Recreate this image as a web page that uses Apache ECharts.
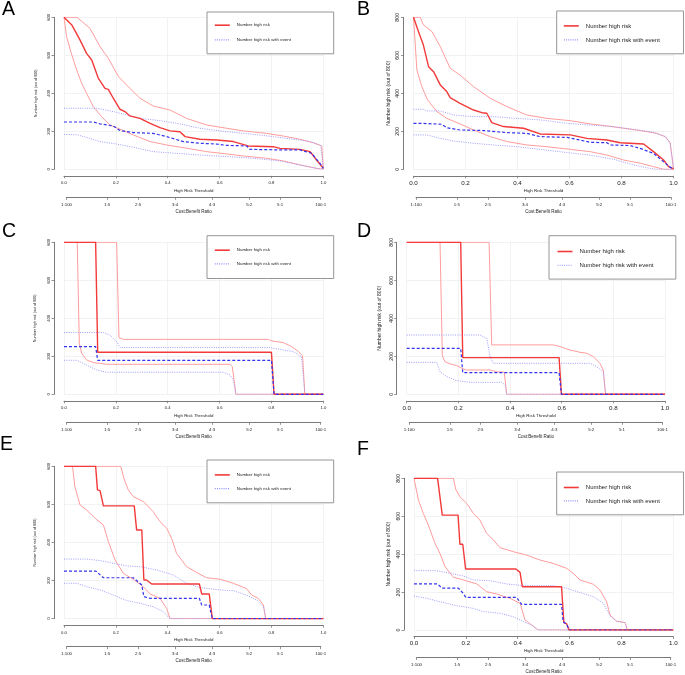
<!DOCTYPE html>
<html>
<head>
<meta charset="utf-8">
<script src="https://cdn.jsdelivr.net/npm/echarts@6/dist/echarts.min.js"></script>
<style>
html,body{margin:0;padding:0;background:#fff;}
#chart{width:685px;height:675px;}
</style>
</head>
<body>
<div id="chart"></div>
<script>
// ---------- tick labels ----------
const xTicks = [0, 0.2, 0.4, 0.6, 0.8, 1.0];
const yTicks = [0, 200, 400, 600, 800];
const cbTicks = [1/101, 1/6, 2/7, 3/7, 4/7, 5/7, 5/6, 100/101];
const cbLabels = ['1:100', '1:5', '2:5', '3:4', '4:3', '5:2', '5:1', '100:1'];
const panelLetters = ['A', 'B', 'C', 'D', 'E', 'F'];
const legendNames = ['Number high risk', 'Number high risk with event'];

// ---------- Panel A ----------
const A_risk = [[0,800],[0.03,760],[0.062,680],[0.087,610],[0.107,575],[0.132,480],[0.158,426],[0.171,421],[0.19,374],[0.216,316],[0.235,304],[0.254,281],[0.293,268],[0.332,242],[0.37,219],[0.409,202],[0.447,198],[0.467,172],[0.524,158],[0.589,154],[0.653,146],[0.71,123],[0.807,119],[0.833,110],[0.91,105],[0.949,93],[0.974,49],[1,5]];
const A_riskHi = [[0,800],[0.05,800],[0.1,742],[0.139,646],[0.171,584],[0.21,488],[0.254,426],[0.293,374],[0.344,333],[0.409,312],[0.473,268],[0.55,233],[0.627,216],[0.692,202],[0.781,189],[0.846,175],[0.91,158],[0.961,140],[0.994,123],[1,5]];
const A_riskLo = [[0,800],[0.01,698],[0.03,602],[0.049,523],[0.068,453],[0.087,400],[0.113,330],[0.145,277],[0.177,233],[0.216,211],[0.267,181],[0.332,146],[0.396,128],[0.473,111],[0.55,93],[0.627,81],[0.692,70],[0.781,58],[0.846,44],[0.91,23],[0.974,5],[1,0]];
const A_event = [[0,249],[0.113,249],[0.139,239],[0.19,228],[0.216,204],[0.267,193],[0.344,189],[0.396,172],[0.46,146],[0.524,137],[0.589,133],[0.627,126],[0.704,123],[0.717,105],[0.833,102],[0.91,102],[0.955,84],[0.987,32],[1,5]];
const A_eventHi = [[0,321],[0.126,321],[0.19,304],[0.242,286],[0.293,268],[0.37,256],[0.447,239],[0.524,216],[0.627,198],[0.73,184],[0.807,172],[0.884,158],[0.949,146],[0.99,126],[1,5]];
const A_eventLo = [[0,184],[0.049,182],[0.087,168],[0.139,146],[0.203,133],[0.267,116],[0.344,93],[0.434,84],[0.524,75],[0.627,67],[0.73,58],[0.833,44],[0.91,23],[0.974,5],[1,0]];

// ---------- Panel B ----------
const B_risk = [[0,800],[0.019,725],[0.038,654],[0.058,540],[0.077,514],[0.103,444],[0.128,409],[0.141,377],[0.179,347],[0.231,312],[0.263,298],[0.282,295],[0.301,246],[0.346,225],[0.423,216],[0.487,186],[0.603,181],[0.667,163],[0.744,154],[0.795,140],[0.885,133],[0.923,93],[0.962,49],[0.981,14],[0.997,5],[1,0]];
const B_riskHi = [[0,800],[0.026,800],[0.038,760],[0.071,725],[0.103,646],[0.141,532],[0.179,496],[0.231,435],[0.295,374],[0.359,330],[0.436,286],[0.513,268],[0.603,256],[0.679,239],[0.744,228],[0.808,216],[0.872,204],[0.936,189],[0.968,172],[0.987,140],[1,5]];
const B_riskLo = [[0,800],[0.013,523],[0.032,435],[0.054,365],[0.09,304],[0.128,268],[0.179,239],[0.231,207],[0.295,172],[0.359,146],[0.436,128],[0.513,119],[0.603,105],[0.679,93],[0.744,75],[0.808,49],[0.872,32],[0.923,14],[0.962,0],[1,0]];
const B_event = [[0,242],[0.032,242],[0.038,237],[0.109,237],[0.128,219],[0.179,207],[0.269,204],[0.359,193],[0.436,189],[0.487,172],[0.59,168],[0.641,154],[0.679,142],[0.744,140],[0.756,128],[0.833,125],[0.872,110],[0.923,84],[0.962,40],[0.981,17],[0.994,5],[1,0]];
const B_eventHi = [[0,316],[0.038,316],[0.051,307],[0.103,307],[0.154,286],[0.231,277],[0.308,277],[0.397,268],[0.487,260],[0.59,242],[0.679,233],[0.769,225],[0.846,210],[0.923,195],[0.968,172],[0.987,137],[1,5]];
const B_eventLo = [[0,181],[0.051,181],[0.103,163],[0.154,149],[0.231,137],[0.308,128],[0.397,119],[0.487,105],[0.59,88],[0.679,75],[0.769,53],[0.846,23],[0.91,5],[0.936,0],[1,0]];

// ---------- Panel C ----------
const C_risk = [[0,800],[0.122,800],[0.13,221],[0.80,221],[0.81,0],[1,0]];
const C_riskHi = [[0,800],[0.203,800],[0.212,298],[0.229,289],[0.788,289],[0.801,281],[0.846,272],[0.878,251],[0.904,225],[0.92,202],[0.929,0],[1,0]];
const C_riskLo = [[0,800],[0.051,800],[0.059,268],[0.068,216],[0.087,181],[0.113,167],[0.139,163],[0.165,158],[0.64,158],[0.649,146],[0.663,0],[1,0]];
const C_event = [[0,251],[0.122,251],[0.13,179],[0.80,179],[0.81,0],[1,0]];
const C_eventHi = [[0,325],[0.152,325],[0.177,312],[0.203,277],[0.216,246],[0.794,246],[0.846,233],[0.884,225],[0.916,198],[0.929,0],[1,0]];
const C_eventLo = [[0,179],[0.049,179],[0.087,154],[0.126,128],[0.165,116],[0.614,116],[0.64,102],[0.653,75],[0.663,0],[1,0]];

// ---------- Panel D ----------
const D_risk = [[0,800],[0.209,800],[0.217,193],[0.59,193],[0.599,0],[1,0]];
const D_riskHi = [[0,800],[0.319,800],[0.329,260],[0.568,260],[0.594,251],[0.632,233],[0.671,221],[0.697,216],[0.723,198],[0.748,163],[0.761,128],[0.77,0],[1,0]];
const D_riskLo = [[0,800],[0.129,800],[0.138,202],[0.148,172],[0.168,160],[0.194,151],[0.213,137],[0.232,128],[0.323,128],[0.348,119],[0.378,116],[0.387,0],[1,0]];
const D_event = [[0,242],[0.209,242],[0.217,114],[0.59,114],[0.599,0],[1,0]];
const D_eventHi = [[0,312],[0.284,312],[0.31,295],[0.323,198],[0.335,163],[0.71,163],[0.735,146],[0.761,119],[0.77,0],[1,0]];
const D_eventLo = [[0,168],[0.116,168],[0.129,119],[0.155,93],[0.194,72],[0.245,63],[0.368,63],[0.381,49],[0.387,0],[1,0]];

// ---------- Panel E ----------
const E_risk = [[0,800],[0.122,800],[0.129,676],[0.139,672],[0.152,592],[0.271,592],[0.28,466],[0.3,466],[0.308,203],[0.318,203],[0.338,182],[0.522,182],[0.531,130],[0.56,130],[0.572,0],[1,0]];
const E_riskHi = [[0,800],[0.219,800],[0.231,737],[0.248,676],[0.267,641],[0.306,615],[0.344,562],[0.37,510],[0.396,475],[0.415,422],[0.434,343],[0.473,273],[0.512,242],[0.55,215],[0.602,207],[0.653,186],[0.704,158],[0.724,124],[0.749,107],[0.769,72],[0.778,0],[1,0]];
const E_riskLo = [[0,800],[0.033,800],[0.042,693],[0.062,597],[0.087,571],[0.12,527],[0.152,492],[0.171,405],[0.197,308],[0.229,238],[0.267,207],[0.306,168],[0.332,130],[0.37,107],[0.396,54],[0.409,0],[1,0]];
const E_event = [[0,250],[0.123,250],[0.152,215],[0.267,215],[0.3,177],[0.308,116],[0.332,107],[0.522,107],[0.531,72],[0.56,72],[0.572,0],[1,0]];
const E_eventHi = [[0,313],[0.087,313],[0.139,305],[0.19,291],[0.242,277],[0.293,273],[0.357,256],[0.422,229],[0.473,186],[0.524,163],[0.602,151],[0.653,147],[0.704,124],[0.743,98],[0.769,63],[0.778,0],[1,0]];
const E_eventLo = [[0,186],[0.049,186],[0.087,168],[0.139,151],[0.19,124],[0.242,95],[0.293,81],[0.344,63],[0.383,37],[0.409,0],[1,0]];

// ---------- Panel F ----------
const F_risk = [[0,800],[0.091,800],[0.109,606],[0.17,606],[0.177,452],[0.188,452],[0.199,322],[0.393,322],[0.409,304],[0.418,228],[0.569,228],[0.578,39],[0.589,32],[0.598,0],[1,0]];
const F_riskHi = [[0,800],[0.152,800],[0.161,742],[0.177,703],[0.203,668],[0.229,615],[0.254,580],[0.28,510],[0.306,475],[0.332,434],[0.383,413],[0.434,395],[0.486,369],[0.537,351],[0.589,325],[0.614,299],[0.64,264],[0.692,241],[0.717,211],[0.743,149],[0.756,79],[0.781,47],[0.814,39],[0.823,0],[1,0]];
const F_riskLo = [[0,800],[0.004,800],[0.017,685],[0.036,615],[0.055,554],[0.081,457],[0.1,404],[0.12,334],[0.152,278],[0.19,264],[0.242,243],[0.28,202],[0.319,190],[0.37,167],[0.409,141],[0.428,53],[0.454,26],[0.479,0],[1,0]];
const F_event = [[0,243],[0.091,243],[0.107,221],[0.171,221],[0.19,193],[0.2,172],[0.396,172],[0.415,135],[0.569,135],[0.575,44],[0.589,30],[0.598,0],[1,0]];
const F_eventHi = [[0,313],[0.087,313],[0.139,299],[0.19,285],[0.229,264],[0.293,260],[0.357,243],[0.422,234],[0.537,234],[0.589,220],[0.64,197],[0.692,176],[0.73,141],[0.756,74],[0.781,47],[0.814,39],[0.823,0],[1,0]];
const F_eventLo = [[0,179],[0.049,167],[0.1,149],[0.165,128],[0.229,114],[0.267,97],[0.332,88],[0.383,70],[0.422,44],[0.454,26],[0.479,0],[1,0]];

const panelData = [
  [A_riskLo, A_riskHi, A_eventLo, A_eventHi, A_risk, A_event],
  [B_riskLo, B_riskHi, B_eventLo, B_eventHi, B_risk, B_event],
  [C_riskLo, C_riskHi, C_eventLo, C_eventHi, C_risk, C_event],
  [D_riskLo, D_riskHi, D_eventLo, D_eventHi, D_risk, D_event],
  [E_riskLo, E_riskHi, E_eventLo, E_eventHi, E_risk, E_event],
  [F_riskLo, F_riskHi, F_eventLo, F_eventHi, F_risk, F_event]
];

// ---------- layout / style ----------
const FONT = '"Liberation Sans", Arial, Helvetica, sans-serif';
const RED = '#f23a3a', RED_CI = '#ff9c9c', BLUE = '#3434f0', BLUE_CI = '#9d9dff';
const layout = [
  {g:[64,17.3,259.3,152],   big:false, yGap:16.5, lg:{l:207,  t:12,    pt:10,   gap:8.3, pb:10.7, pl:7}, letter:[2,0]},
  {g:[413.5,17.3,260,152],  big:true,  yGap:12.7, lg:{l:556.7,t:11,    pt:11.7, gap:7.6, pb:10.7, pl:6.3}, letter:[357,0]},
  {g:[64,242.3,259.3,152],  big:false, yGap:17,   lg:{l:207,  t:235.7, pt:11.3, gap:7.3, pb:11.4, pl:7}, letter:[2,221.5]},
  {g:[406.7,242.3,258.3,152],big:true, yGap:14.2, lg:{l:549,  t:235.7, pt:12.6, gap:7.4, pb:10.6, pl:7.7}, letter:[357,221.5]},
  {g:[64,466.3,259.3,152.4],big:false, yGap:17,   lg:{l:207,  t:460,   pt:11.7, gap:7.3, pb:11,   pl:7}, letter:[0,435]},
  {g:[414,478.3,259.3,151.7],big:true, yGap:12.8, lg:{l:556.7,t:472,   pt:12.3, gap:7,   pb:10.7, pl:6.3}, letter:[357,440]}
];

const grid = [], xAxis = [], yAxis = [], series = [], legend = [], title = [];
const textCol = '#222', axisCol = '#7a7a7a', splitCol = '#ececec';

layout.forEach((p, i) => {
  const [L, T, W, H] = p.g;
  grid.push({left: L, top: T, width: W, height: H});
  grid.push({left: L + W / 101, top: T, width: W * 99 / 101, height: H});
  const fx = p.big ? 6.2 : 4.2;
  const fy = p.big ? 5.2 : 4.2;
  const fyName = p.big ? 5.0 : 3.7;
  const fLeg = p.big ? 6.0 : 4.4;
  // main threshold axis
  xAxis.push({
    type: 'value', gridIndex: 2 * i, min: 0, max: 1, interval: 0.2, position: 'bottom', offset: 6.5,
    name: 'High Risk Threshold', nameLocation: 'middle', nameGap: 12.6,
    nameTextStyle: {fontSize: 4.4, color: textCol, fontFamily: FONT},
    axisLine: {show: true, onZero: false, lineStyle: {color: axisCol, width: 1}},
    axisTick: {show: true, length: 2.5, lineStyle: {color: axisCol, width: 0.8}},
    axisLabel: {fontSize: fx, color: textCol, fontFamily: FONT, margin: p.big ? 4.2 : 5.2,
      formatter: v => v.toFixed(1)},
    splitLine: {show: true, lineStyle: {color: splitCol, width: 0.7}}
  });
  // cost:benefit axis
  xAxis.push({
    type: 'value', gridIndex: 2 * i + 1, min: cbTicks[0], max: cbTicks[cbTicks.length - 1],
    position: 'bottom', offset: 28,
    name: 'Cost:Benefit Ratio', nameLocation: 'middle', nameGap: 11.5,
    nameTextStyle: {fontSize: 4.5, color: textCol, fontFamily: FONT},
    axisLine: {show: true, onZero: false, lineStyle: {color: axisCol, width: 1}},
    axisTick: {show: true, length: 2.5, customValues: cbTicks, lineStyle: {color: axisCol, width: 0.8}},
    axisLabel: {fontSize: 4.4, color: textCol, fontFamily: FONT, margin: 5.3, customValues: cbTicks,
      showMinLabel: true, showMaxLabel: true,
      formatter: v => {
        let best = 0;
        cbTicks.forEach((t, k) => { if (Math.abs(t - v) < Math.abs(cbTicks[best] - v)) best = k; });
        return cbLabels[best];
      }},
    splitLine: {show: false}
  });
  yAxis.push({
    type: 'value', gridIndex: 2 * i, min: 0, max: 800, interval: 200, offset: 10,
    name: 'Number high risk (out of 800)', nameLocation: 'middle', nameGap: p.yGap,
    nameTextStyle: {fontSize: fyName, color: textCol, fontFamily: FONT},
    axisLine: {show: true, onZero: false, lineStyle: {color: axisCol, width: 1}},
    axisTick: {show: true, length: 2.5, lineStyle: {color: axisCol, width: 0.8}},
    axisLabel: {fontSize: fy, color: textCol, fontFamily: FONT, rotate: 90, margin: 3},
    splitLine: {show: true, lineStyle: {color: splitCol, width: 0.7}}
  });
  yAxis.push({type: 'value', gridIndex: 2 * i + 1, min: 0, max: 1, show: false});

  const d = panelData[i];
  const mk = (name, data, color, width, type) => ({
    type: 'line', name: name, xAxisIndex: 2 * i, yAxisIndex: 2 * i, data: data,
    symbol: 'none', showSymbol: false, silent: true, animation: false,
    lineStyle: {color: color, width: width, type: type}, itemStyle: {color: color}
  });
  series.push(mk('ci_risk_lo_' + i, d[0], RED_CI, 1, 'solid'));
  series.push(mk('ci_risk_hi_' + i, d[1], RED_CI, 1, 'solid'));
  series.push(mk('ci_event_lo_' + i, d[2], BLUE_CI, 1, [1, 1.3]));
  series.push(mk('ci_event_hi_' + i, d[3], BLUE_CI, 1, [1, 1.3]));
  series.push(mk(legendNames[0], d[4], RED, 1.4, 'solid'));
  series.push(mk(legendNames[1], d[5], BLUE, 1.2, [3, 2]));

  // legend text width estimate (Helvetica metrics: 12.34 em for the longer label)
  const textW = 12.34 * fLeg;
  const iconW = 15;
  const rightPad = Math.max(4, (p.lg.l + 126) - (p.lg.l + p.lg.pl + iconW + 7 + textW));
  legend.push({
    orient: 'vertical', left: p.lg.l, top: p.lg.t,
    padding: [p.lg.pt, rightPad, p.lg.pb, p.lg.pl],
    itemWidth: iconW, itemHeight: 8, itemGap: p.lg.gap,
    borderColor: '#8a8a8a', borderWidth: 0.9, backgroundColor: '#fff',
    selectedMode: false,
    itemStyle: {color: 'rgba(0,0,0,0)', borderWidth: 0, opacity: 0},
    textStyle: {fontSize: fLeg, color: textCol, fontFamily: FONT, padding: [0, 0, 0, 2]},
    data: [
      {name: legendNames[0], lineStyle: {color: RED, width: 1.6, type: 'solid'}},
      {name: legendNames[1], lineStyle: {color: '#8f8fff', width: 1.1, type: [1, 1.2]}}
    ]
  });
  title.push({
    text: panelLetters[i], left: p.letter[0], top: p.letter[1], padding: 0,
    textStyle: {fontSize: 19.5, fontWeight: 'normal', color: '#000', fontFamily: FONT}
  });
});

const chart = echarts.init(document.getElementById('chart'), null, {renderer: 'canvas'});
chart.setOption({
  backgroundColor: '#fff',
  animation: false,
  title: title,
  legend: legend,
  grid: grid,
  xAxis: xAxis,
  yAxis: yAxis,
  series: series
});
</script>
</body>
</html>
